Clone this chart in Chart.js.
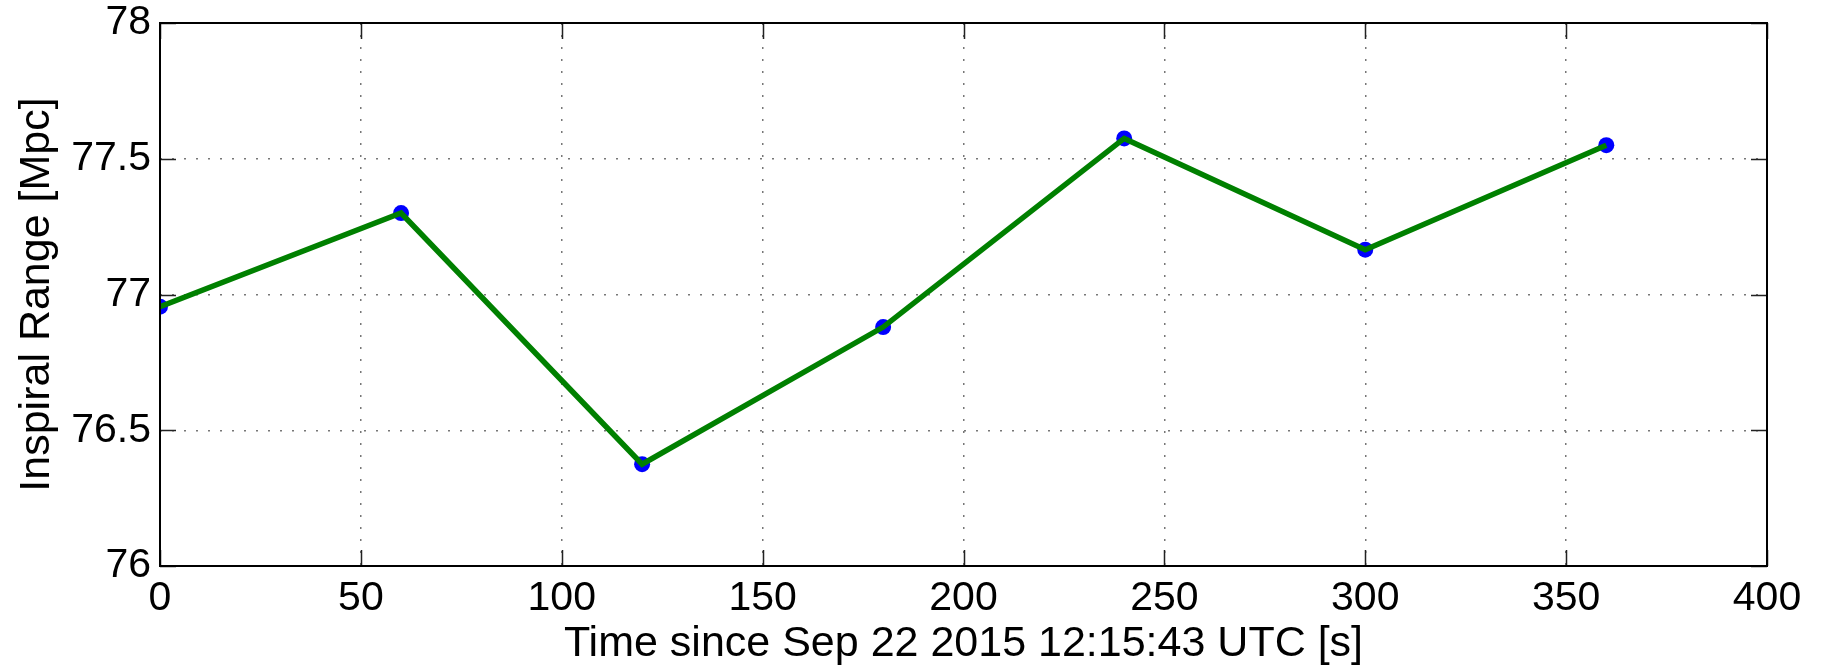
<!DOCTYPE html>
<html>
<head>
<meta charset="utf-8">
<script src="https://cdn.jsdelivr.net/npm/chart.js@4/dist/chart.umd.min.js"></script>
<style>
  html, body { margin: 0; padding: 0; background: #fff; }
  canvas { display: block; }
</style>
</head>
<body>
<canvas id="myChart" width="1826" height="670"></canvas>
<script>
// data
const times = [0, 60, 120, 180, 240, 300, 360];
const inspiralRange = [76.955, 77.30, 76.375, 76.88, 77.575, 77.165, 77.55];
const xTicks = [0, 50, 100, 150, 200, 250, 300, 350, 400];
const yTicks = [76, 76.5, 77, 77.5, 78];

const points = times.map((t, i) => ({ x: t, y: inspiralRange[i] }));
const FONT = "'Liberation Sans', Arial, Helvetica, sans-serif";

// cadre noir + petites graduations vers l'intérieur (style matlab)
const cadre = {
    id: 'cadre',
    afterDraw(chart) {
        const { ctx, chartArea: a, scales } = chart;
        ctx.save();
        ctx.strokeStyle = '#222';
        ctx.lineWidth = 1.5;
        const len = 16;
        xTicks.forEach(v => {
            const px = Math.round(scales.x.getPixelForValue(v)) + 0.5;
            ctx.beginPath();
            ctx.moveTo(px, a.bottom); ctx.lineTo(px, a.bottom - len);
            ctx.moveTo(px, a.top); ctx.lineTo(px, a.top + len);
            ctx.stroke();
        });
        yTicks.forEach(v => {
            const py = Math.round(scales.y.getPixelForValue(v)) + 0.5;
            ctx.beginPath();
            ctx.moveTo(a.left, py); ctx.lineTo(a.left + len, py);
            ctx.moveTo(a.right, py); ctx.lineTo(a.right - len, py);
            ctx.stroke();
        });
        ctx.strokeStyle = '#000';
        ctx.lineWidth = 2;
        ctx.strokeRect(a.left, a.top, a.right - a.left, a.bottom - a.top);
        ctx.restore();
    }
};

const ctx = document.getElementById('myChart').getContext('2d');
new Chart(ctx, {
    type: 'line',
    data: {
        datasets: [
            {
                // la ligne verte passe au-dessus des points bleus
                data: points,
                borderColor: '#008000',
                borderWidth: 5.5,
                pointRadius: 0,
                fill: false,
                tension: 0,
                order: 1
            },
            {
                data: points,
                showLine: false,
                pointRadius: 8,
                pointBackgroundColor: '#0000ff',
                pointBorderWidth: 0,
                order: 2
            }
        ]
    },
    options: {
        responsive: false,
        animation: false,
        devicePixelRatio: 1,
        layout: { padding: { top: 23, right: 59, left: 0, bottom: 0 } },
        plugins: { legend: { display: false }, tooltip: { enabled: false } },
        scales: {
            x: {
                type: 'linear',
                min: 0,
                max: 400,
                afterBuildTicks: s => { s.ticks = xTicks.map(v => ({ value: v })); },
                afterFit: s => { s.height = 104; s.paddingLeft = 0; s.paddingRight = 0; },
                ticks: { color: '#000', font: { family: FONT, size: 41 }, padding: 8, maxRotation: 0 },
                grid: { color: '#777', lineWidth: 1.5, drawTicks: false },
                border: { display: false, dash: [2, 10] },
                title: {
                    display: true,
                    text: 'Time since Sep 22 2015 12:15:43 UTC [s]',
                    color: '#000',
                    font: { family: FONT, size: 43 },
                    padding: { top: -13, bottom: 0 }
                }
            },
            y: {
                min: 76,
                max: 78,
                afterBuildTicks: s => { s.ticks = yTicks.map(v => ({ value: v })); },
                afterFit: s => { s.width = 160; s.paddingTop = 0; s.paddingBottom = 0; },
                ticks: {
                    color: '#000',
                    font: { family: FONT, size: 41 },
                    padding: 9,
                    callback: v => String(v)
                },
                grid: { color: '#777', lineWidth: 1.5, drawTicks: false },
                border: { display: false, dash: [2, 10] },
                title: {
                    display: true,
                    text: 'Inspiral Range [Mpc]',
                    color: '#000',
                    font: { family: FONT, size: 43 },
                    padding: { top: 11, bottom: 0 }
                }
            }
        }
    },
    plugins: [cadre]
});
</script>
</body>
</html>
